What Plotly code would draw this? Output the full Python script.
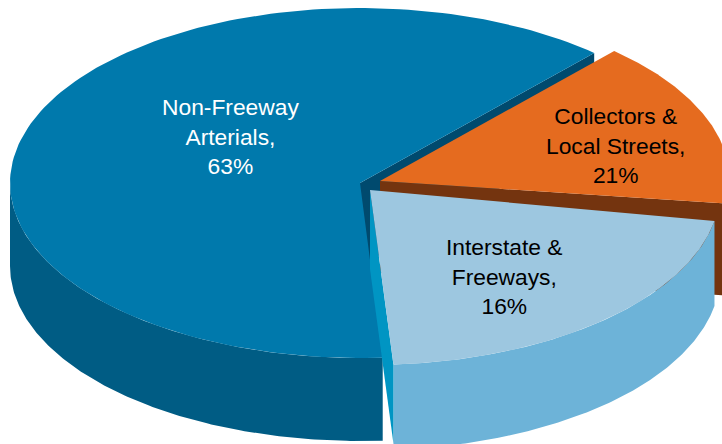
import numpy as np
import plotly.graph_objects as go

categories = ["Non-Freeway<br>Arterials,", "Collectors &<br>Local Streets,", "Interstate &<br>Freeways,"]
labelled_share = [63, 21, 16]
# angular extent of each drawn wedge, in percent of a turn
drawn_share = [62.7, 15.4, 21.1]

# style / projection
W, H = 722, 444
RX, RY = 350, 175
START = [48.0, 48.0, -10.2]          # angle where each wedge begins
APEX = [(360, 183), (380, 181), (370, 190)]
DEPTH = [83, 92, 85]
CUT_DEPTH = [83, 92, 79]
TOP = ["#0079AC", "#E56B1F", "#9DC7E0"]
WALL = ["#005C84", "#74340F", "#6DB3D8"]
CUT_FAR = "#004A6E"
CUT_NEAR = "#0095C3"
TEXT = ["white", "black", "black"]
LABEL_POS = [(230, 136.5), (615, 145.5), (504, 276)]
FONT = "Liberation Sans"
FONT_SIZE = 22.8


def arc(i, a0, a1, dy=0.0, n=160):
    t = np.radians(np.linspace(a0, a1, n))
    ax, ay = APEX[i]
    return ax + RX * np.cos(t), ay - RY * np.sin(t) + dy


def wedge_angles(i):
    sweep = drawn_share[i] * 3.6
    if i == 0:
        return START[0], START[0] + sweep      # counter-clockwise round the left
    return START[i], START[i] - sweep          # clockwise round the right


fig = go.Figure()


def poly(xs, ys, color):
    fig.add_trace(go.Scatter(x=np.asarray(xs), y=np.asarray(ys), mode="lines", fill="toself",
                             fillcolor=color, line=dict(width=0, color=color),
                             hoverinfo="skip", showlegend=False))


def top_face(i):
    a0, a1 = wedge_angles(i)
    x, y = arc(i, a0, a1)
    ax, ay = APEX[i]
    poly(np.r_[ax, x, ax], np.r_[ay, y, ay], TOP[i])


def outer_wall(i, a0, a1):
    x, y = arc(i, a0, a1)
    xb, yb = arc(i, a1, a0, DEPTH[i])
    poly(np.r_[x, xb], np.r_[y, yb], WALL[i])


def cut_face(i, ang, color):
    ax, ay = APEX[i]
    x, y = arc(i, ang, ang, n=1)
    d = CUT_DEPTH[i]
    poly([ax, x[0], x[0], ax, ax], [ay, y[0], y[0] + d, ay + d, ay], color)


# main wedge: far cut face, outer wall, top
a0, a1 = wedge_angles(0)
cut_face(0, a0, CUT_FAR)
outer_wall(0, 180, a1)
top_face(0)

# orange wedge
c0, c1 = wedge_angles(1)
cut_face(1, c1, WALL[1])
top_face(1)

# light wedge
b0, b1 = wedge_angles(2)
outer_wall(2, b0, b1)
cut_face(2, b1, CUT_NEAR)
top_face(2)

for cat, pct, (x, y), col in zip(categories, labelled_share, LABEL_POS, TEXT):
    fig.add_annotation(x=x, y=y, xref="x", yref="y", text=f"{cat}<br>{pct}%", showarrow=False,
                       align="center", xanchor="center", yanchor="middle",
                       font=dict(family=FONT, size=FONT_SIZE, color=col))

fig.update_layout(width=W, height=H, margin=dict(l=0, r=0, t=0, b=0),
                  paper_bgcolor="white", plot_bgcolor="white", showlegend=False,
                  xaxis=dict(range=[0, W], visible=False, fixedrange=True),
                  yaxis=dict(range=[H, 0], visible=False, fixedrange=True))
fig.write_html("out.html", config={"displayModeBar": False},
               post_script="document.body.style.margin='0';document.body.style.overflow='hidden';")
